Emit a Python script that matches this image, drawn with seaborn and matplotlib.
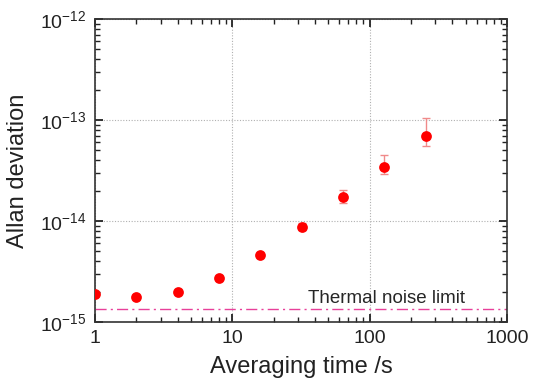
"""
Allan deviation vs averaging time
"""

import numpy as np
import pandas as pd
import matplotlib
matplotlib.use("Agg")
import matplotlib.pyplot as plt
from matplotlib.ticker import LogLocator, NullFormatter
import seaborn as sns

# Data
tau = [1, 2, 4, 8, 16, 32, 64, 128, 256]
adev = [1.89e-15, 1.78e-15, 1.97e-15, 2.75e-15, 4.64e-15, 8.8e-15, 1.72e-14, 3.45e-14, 6.9e-14]
err_lo = [0.0, 0.0, 0.0, 0.0, 0.1e-15, 0.6e-15, 0.21e-14, 0.55e-14, 1.4e-14]
err_hi = [0.0, 0.0, 0.0, 0.0, 0.1e-15, 0.7e-15, 0.31e-14, 1.05e-14, 3.6e-14]
thermal_limit = 1.35e-15

df = pd.DataFrame({"tau": tau, "adev": adev})

sns.set_theme(style="ticks")
plt.rcParams["font.family"] = ["Liberation Sans", "DejaVu Sans"]
plt.rcParams["mathtext.fontset"] = "custom"
plt.rcParams["mathtext.rm"] = "Liberation Sans"
plt.rcParams["mathtext.default"] = "regular"

fig = plt.figure(figsize=(5.34, 3.87), dpi=100)
ax = fig.add_axes([95 / 534, 1 - 322 / 387, 412 / 534, 303 / 387])

ax.set_xscale("log")
ax.set_yscale("log")

ax.errorbar(tau, adev, yerr=[err_lo, err_hi], fmt="none", ecolor="#f08a8a",
            elinewidth=1, capsize=3, capthick=1, zorder=2)
sns.scatterplot(data=df, x="tau", y="adev", ax=ax, color="red", s=60,
                edgecolor="red", linewidth=0, zorder=3, legend=False)

ax.axhline(thermal_limit, color="#e8409a", lw=1, ls=(0, (8, 3, 1.5, 3)), zorder=1)
ax.text(35.5, 1.7e-15, "Thermal noise limit", fontsize=13.5, ha="left", va="center")

ax.set_xlim(1, 1000)
ax.set_ylim(1e-15, 1e-12)
ax.grid(True, which="major", color="#b0b0b0", ls=(0, (1, 1.5)), lw=0.8)

ax.set_xticks([1, 10, 100, 1000])
ax.set_xticklabels(["1", "10", "100", "1000"])
ax.set_yticks([1e-15, 1e-14, 1e-13, 1e-12])
ax.set_yticklabels([r"10$^{-15}$", r"10$^{-14}$", r"10$^{-13}$", r"10$^{-12}$"])
for axis in (ax.xaxis, ax.yaxis):
    axis.set_minor_locator(LogLocator(base=10, subs=np.arange(2, 10), numticks=20))
    axis.set_minor_formatter(NullFormatter())

ax.tick_params(which="both", direction="in", top=True, right=True,
               bottom=True, left=True, color="#222222")
ax.tick_params(which="major", length=6, width=1.3, labelsize=14, pad=6, labelcolor="#222222")
ax.tick_params(which="minor", length=3.5, width=1)

for s in ax.spines.values():
    s.set_visible(True)
    s.set_color("#333333")
    s.set_linewidth(1.2)

ax.set_xlabel("Averaging time /s", fontsize=17, labelpad=6, color="#222222")
ax.set_ylabel("Allan deviation", fontsize=17, labelpad=8, color="#222222")

fig.savefig("out.png", dpi=100)
